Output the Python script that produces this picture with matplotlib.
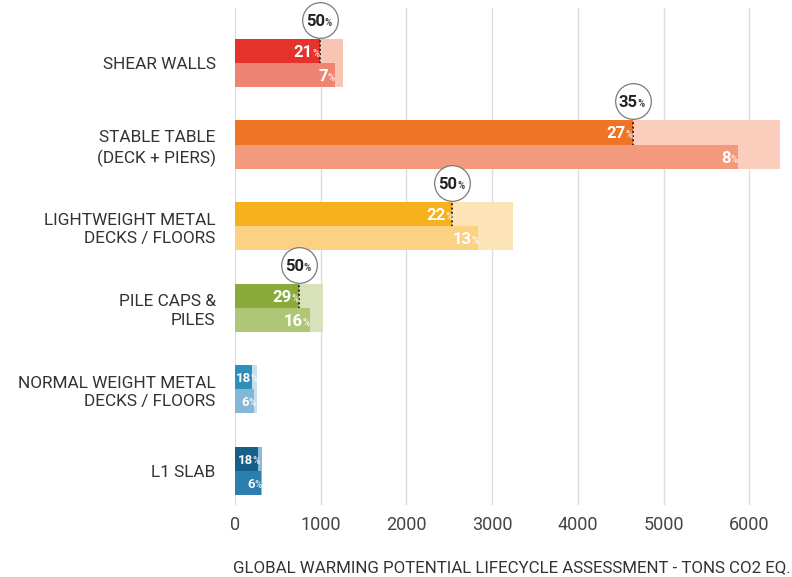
import numpy as np
import matplotlib
matplotlib.use("Agg")
import matplotlib.pyplot as plt

plt.rcParams['font.family'] = ['Roboto', 'DejaVu Sans']

categories = ["SHEAR WALLS", "STABLE TABLE\n(DECK + PIERS)", "LIGHTWEIGHT METAL\nDECKS / FLOORS",
              "PILE CAPS &\nPILES", "NORMAL WEIGHT METAL\nDECKS / FLOORS", "L1 SLAB"]
baseline_gwp = [1255, 6360, 3245, 1025, 255, 315]
option_a_gwp = [990, 4640, 2535, 745, 195, 270]
option_b_gwp = [1165, 5865, 2840, 875, 225, 300]
option_a_pct = [21, 27, 22, 29, 18, 18]
option_b_pct = [7, 8, 13, 16, 6, 6]
callout_pct = [50, 35, 50, 50, None, None]

dark_colors = ["#e5332b", "#ef7426", "#f6b21c", "#8aab3b", "#2e8fbb", "#175e88"]
mid_colors = ["#ef8472", "#f39a7c", "#fbd183", "#aec676", "#82b8d6", "#2b7fae"]
pale_colors = ["#f9c4b4", "#fbcdbd", "#fde4b6", "#d7e2bb", "#c7deeb", "#8dbbd6"]

fig = plt.figure(figsize=(7.92, 5.77), dpi=100)
xmax = 6450
px_per_unit = 0.0857
ax = fig.add_axes([235 / 792, 72 / 577, xmax * px_per_unit / 792, 497 / 577])

y = np.arange(len(categories))
full_h = 0.59
half_h = full_h / 2

ax.barh(y, baseline_gwp, height=full_h, color=pale_colors, zorder=2)
ax.barh(y - half_h / 2, option_a_gwp, height=half_h, color=dark_colors, zorder=3)
ax.barh(y + half_h / 2, option_b_gwp, height=half_h, color=mid_colors, zorder=3)


def bar_label(x, yc, pct, color="white"):
    txt = str(pct)
    bar_px = x * px_per_unit
    if bar_px >= 40:
        ax.annotate(txt, xy=(x, yc), xytext=(-7, -6), textcoords="offset pixels",
                    ha="right", va="baseline", fontsize=12, fontweight="bold", color=color,
                    zorder=5)
        ax.annotate("%", xy=(x, yc), xytext=(0, -6), textcoords="offset pixels",
                    ha="right", va="baseline", fontsize=7, fontweight="bold", color=color,
                    alpha=0.75, zorder=5)
        return
    # short bars: smaller number, pinned to the bar start if it would not fit
    num_w = 7.2 * len(txt)
    start = max(bar_px - 6 - num_w, 1)
    ax.annotate(txt, xy=(0, yc), xytext=(start, -5), textcoords="offset pixels",
                ha="left", va="baseline", fontsize=9.5, fontweight="bold", color=color,
                zorder=5)
    ax.annotate("%", xy=(0, yc), xytext=(start + num_w, -5), textcoords="offset pixels",
                ha="left", va="baseline", fontsize=7, fontweight="bold", color=color,
                alpha=0.75, zorder=5)


for i in range(len(categories)):
    bar_label(option_a_gwp[i], y[i] - half_h / 2, option_a_pct[i])
    bar_label(option_b_gwp[i], y[i] + half_h / 2, option_b_pct[i])

    if callout_pct[i] is None:
        continue
    cx = option_a_gwp[i]
    cy = y[i] - 0.528
    ax.plot([cx, cx], [cy + 0.2, y[i]], color="#2a2a2a", lw=1.4, ls=(0, (1, 1.2)), zorder=4)
    ax.scatter([cx], [cy], s=660, facecolor="white", edgecolor="#7a7a7a", lw=0.9, zorder=6,
               clip_on=False)
    ax.annotate(str(callout_pct[i]), xy=(cx, cy), xytext=(5, -6), textcoords="offset pixels",
                ha="right", va="baseline", fontsize=12, fontweight="bold", color="#222222",
                zorder=7, annotation_clip=False)
    ax.annotate("%", xy=(cx, cy), xytext=(5, -6), textcoords="offset pixels",
                ha="left", va="baseline", fontsize=7, fontweight="bold", color="#444444",
                zorder=7, annotation_clip=False)

ax.set_xlim(0, xmax)
ax.set_ylim(5.42, -0.674)
ax.set_xticks(range(0, 7000, 1000))
ax.set_yticks(y)
ax.set_yticklabels(categories, fontsize=12.4, color="#333333", linespacing=1.3)
ax.tick_params(axis="x", length=0, pad=8, labelsize=13, labelcolor="#444444")
ax.tick_params(axis="y", length=0, pad=14)
ax.grid(axis="x", color="#dddddd", lw=1, zorder=0)
ax.set_axisbelow(True)
for side in ax.spines:
    ax.spines[side].set_visible(False)

ax.set_xlabel("GLOBAL WARMING POTENTIAL LIFECYCLE ASSESSMENT - TONS CO2 EQ.",
              fontsize=12.2, color="#333333", labelpad=19)

fig.savefig("out.png", dpi=100)
